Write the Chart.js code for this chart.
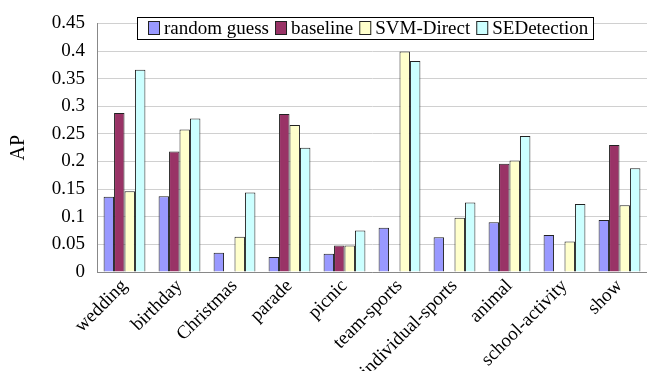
<!DOCTYPE html>
<html lang="en">
  <head>
    <meta charset="utf-8" />
    <title>AP per event</title>
    <style>
      body { margin: 0; background: #fff; }
    </style>
  </head>
  <body>
    <canvas id="apChart" width="647" height="371"></canvas>
    <script src="https://cdn.jsdelivr.net/npm/chart.js"></script>
    <script>
      // event categories
      const events = [
        'wedding', 'birthday', 'Christmas', 'parade', 'picnic',
        'team-sports', 'individual-sports', 'animal', 'school-activity', 'show'
      ]

      // AP values (null = no bar)
      const randomGuess = [0.136, 0.137, 0.035, 0.027, 0.033, 0.080, 0.063, 0.090, 0.067, 0.094]
      const baseline    = [0.288, 0.218, null, 0.286, 0.048, null, null, 0.196, null, 0.230]
      const svmDirect   = [0.146, 0.258, 0.064, 0.266, 0.048, 0.399, 0.098, 0.202, 0.055, 0.121]
      const seDetection = [0.366, 0.278, 0.144, 0.225, 0.075, 0.382, 0.126, 0.246, 0.123, 0.188]

      const yTicks = [0, 0.05, 0.1, 0.15, 0.2, 0.25, 0.3, 0.35, 0.4, 0.45]

      const serif = '"Liberation Serif", "Times New Roman", serif'

      // legend box drawn inside the plot area, like the original
      const boxLegend = {
        id: 'boxLegend',
        afterDraw(chart) {
          const ctx = chart.ctx
          ctx.save()
          ctx.font = '19px ' + serif
          const left = 137, top = 17, right = 593, bottom = 39
          ctx.fillStyle = '#fff'
          ctx.fillRect(left, top, right - left, bottom - top)
          ctx.strokeStyle = '#000'
          ctx.lineWidth = 1
          ctx.strokeRect(left + 0.5, top + 0.5, right - left, bottom - top)
          let x = 148
          const mid = (top + bottom) / 2
          chart.data.datasets.forEach((ds) => {
            ctx.fillStyle = ds.backgroundColor
            ctx.fillRect(x, mid - 7, 12, 14)
            ctx.strokeStyle = '#222'
            ctx.strokeRect(x + 0.5, mid - 6.5, 11, 13)
            x += 16
            ctx.fillStyle = '#000'
            ctx.textBaseline = 'middle'
            ctx.fillText(ds.label, x, mid + 1)
            x += ctx.measureText(ds.label).width + 6
          })
          ctx.restore()
        }
      }

      const mkSet = (label, values, color) => ({
        label: label,
        data: values,
        backgroundColor: color,
        borderColor: '#222',
        borderWidth: 1,
        borderSkipped: 'bottom',
        categoryPercentage: 0.76,
        barPercentage: 1.0
      })

      const config = {
        type: 'bar',
        data: {
          labels: events,
          datasets: [
            mkSet('random guess', randomGuess, '#9999FF'),
            mkSet('baseline', baseline, '#993366'),
            mkSet('SVM-Direct', svmDirect, '#FFFFCC'),
            mkSet('SEDetection', seDetection, '#CCFFFF')
          ]
        },
        options: {
          responsive: false,
          animation: false,
          layout: { padding: { top: 13, right: 0, left: 0, bottom: 0 } },
          plugins: {
            legend: { display: false },
            tooltip: { enabled: false }
          },
          scales: {
            x: {
              grid: { display: false, drawTicks: false },
              border: { color: '#888' },
              ticks: {
                color: '#000',
                font: { family: serif, size: 19 },
                minRotation: 45,
                maxRotation: 45,
                padding: 3,
                autoSkip: false
              },
              afterFit(scale) { scale.height = 99 }
            },
            y: {
              min: 0,
              max: 0.45,
              afterBuildTicks(scale) {
                scale.ticks = yTicks.map((v) => ({ value: v }))
              },
              grid: { color: '#d0d0d0', drawTicks: false },
              border: { color: '#888' },
              ticks: {
                color: '#000',
                font: { family: serif, size: 19 },
                padding: 12,
                callback: (v) => String(+v.toFixed(2))
              },
              title: {
                display: true,
                text: 'AP',
                color: '#000',
                font: { family: serif, size: 20 },
                padding: { top: 7, bottom: 0 }
              },
              afterFit(scale) { scale.width = 97 }
            }
          }
        },
        plugins: [boxLegend]
      }

      const apChart = new Chart(document.getElementById('apChart'), config)
    </script>
  </body>
</html>
